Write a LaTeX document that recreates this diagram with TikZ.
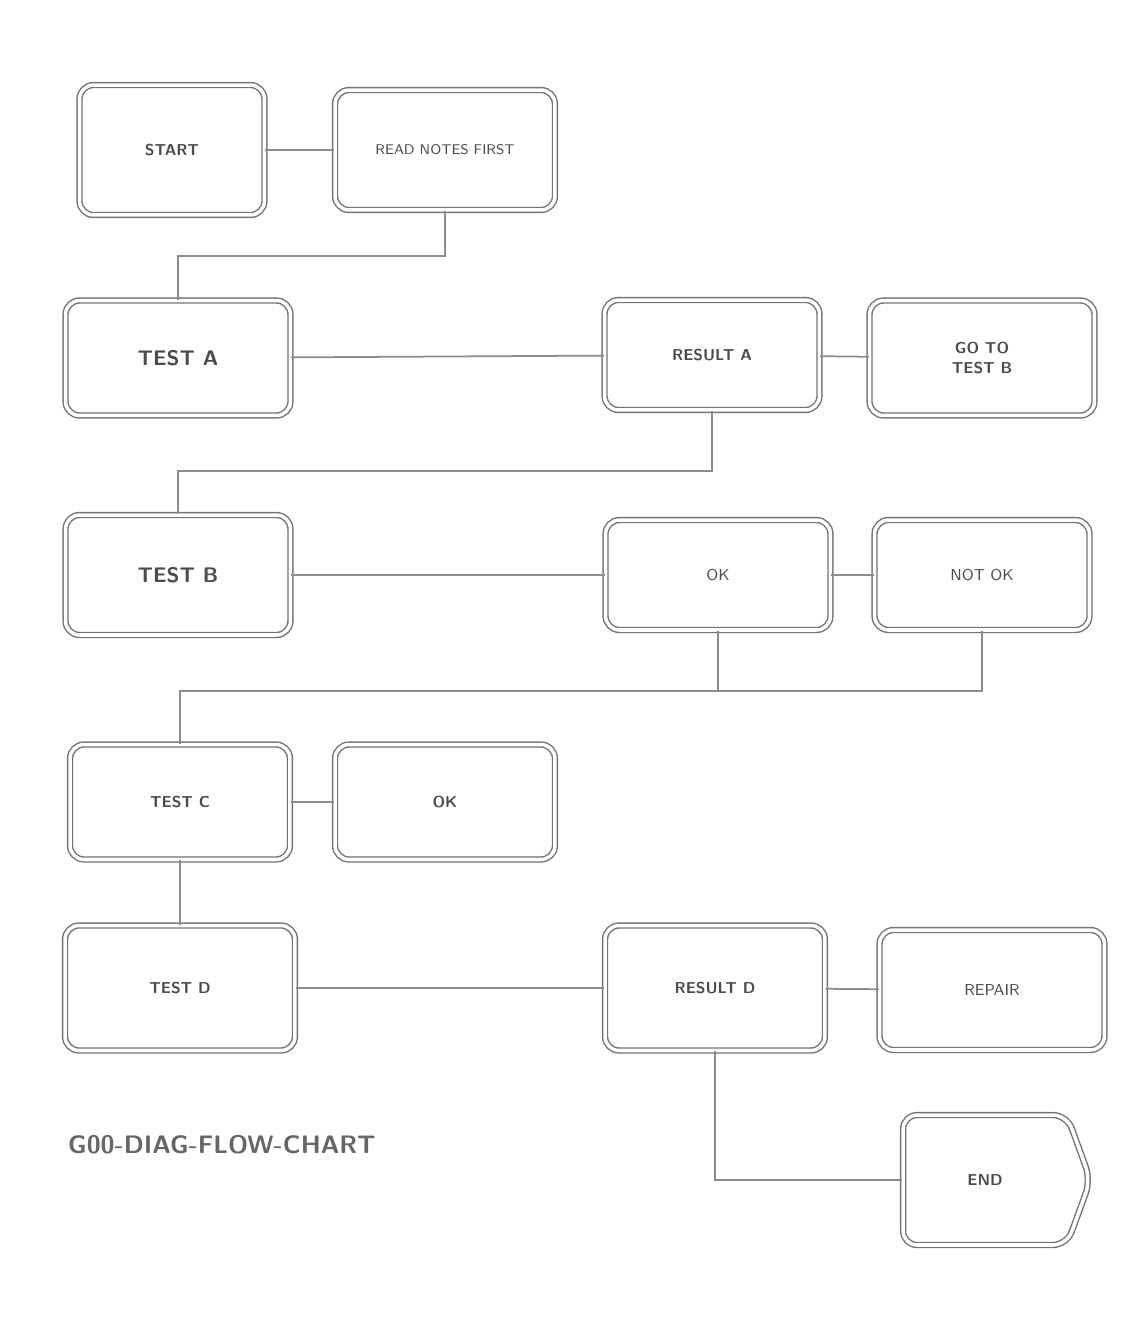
\documentclass[tikz,border=0pt]{standalone}
\usetikzlibrary{shapes.symbols}

\tikzset{
  stepbox/.style={draw=black!55, double=white, double distance=2pt, rounded corners=8pt,
    line width=0.8pt, align=center, font=\sffamily\bfseries\small, text=black!70},
  wire/.style={draw=black!45, line width=1pt}
}

\begin{document}
\begin{tikzpicture}[x=0.02cm, y=-0.02cm]
  \useasboundingbox (0,0) rectangle (1146,1335);
  \node [stepbox, minimum width=3.7cm, minimum height=2.6cm] (start) at (172,150) {START};
  \node [stepbox, minimum width=4.4cm, minimum height=2.4cm] (intro) at (445,150) {\footnotesize\mdseries READ NOTES FIRST};
  \node [stepbox, minimum width=4.5cm, minimum height=2.3cm] (testa) at (178,358) {\large TEST A};
  \node [stepbox, minimum width=4.3cm, minimum height=2.2cm] (resa) at (712,355) {RESULT A};
  \node [stepbox, minimum width=4.5cm, minimum height=2.3cm] (fixa) at (982,358) {GO TO\\TEST B};
  \node [stepbox, minimum width=4.5cm, minimum height=2.4cm] (testb) at (178,575) {\large TEST B};
  \node [stepbox, minimum width=4.5cm, minimum height=2.2cm] (resb) at (718,575) {\mdseries OK};
  \node [stepbox, minimum width=4.3cm, minimum height=2.2cm] (fixb) at (982,575) {\mdseries NOT OK};
  \node [stepbox, minimum width=4.4cm, minimum height=2.3cm] (testc) at (180,802) {TEST C};
  \node [stepbox, minimum width=4.4cm, minimum height=2.3cm] (resc) at (445,802) {OK};
  \node [stepbox, minimum width=4.6cm, minimum height=2.5cm] (testd) at (180,988) {TEST D};
  \node [stepbox, minimum width=4.4cm, minimum height=2.5cm] (resd) at (715,988) {RESULT D};
  \node [stepbox, minimum width=4.5cm, minimum height=2.4cm] (fixd) at (992,990) {\mdseries REPAIR};
  \node [stepbox, signal, signal to=east, signal pointer angle=140, minimum width=3.75cm, minimum height=2.6cm] (done) at (985,1180) {END};
  \node [font=\sffamily\bfseries\Large, text=black!60, anchor=west] (figid) at (62,1145) {G00-DIAG-FLOW-CHART};

  \path [wire] (start) -- (intro);
  \path [wire] (intro.south) -- ++(0,45) -| (testa.north);
  \path [wire] (testa) -- (resa);
  \path [wire] (resa) -- (fixa);
  \path [wire] (resa.south) -- ++(0,60) -| (testb.north);
  \path [wire] (testb) -- (resb);
  \path [wire] (resb) -- (fixb);
  \path [wire] (resb.south) -- ++(0,60) coordinate (joinb) -| (testc.north);
  \path [wire] (fixb.south) |- (joinb);
  \path [wire] (testc) -- (resc);
  \path [wire] (testc) -- (testd);
  \path [wire] (testd) -- (resd);
  \path [wire] (resd) -- (fixd);
  \path [wire] (resd.south) |- (done.west);
\end{tikzpicture}
\end{document}
